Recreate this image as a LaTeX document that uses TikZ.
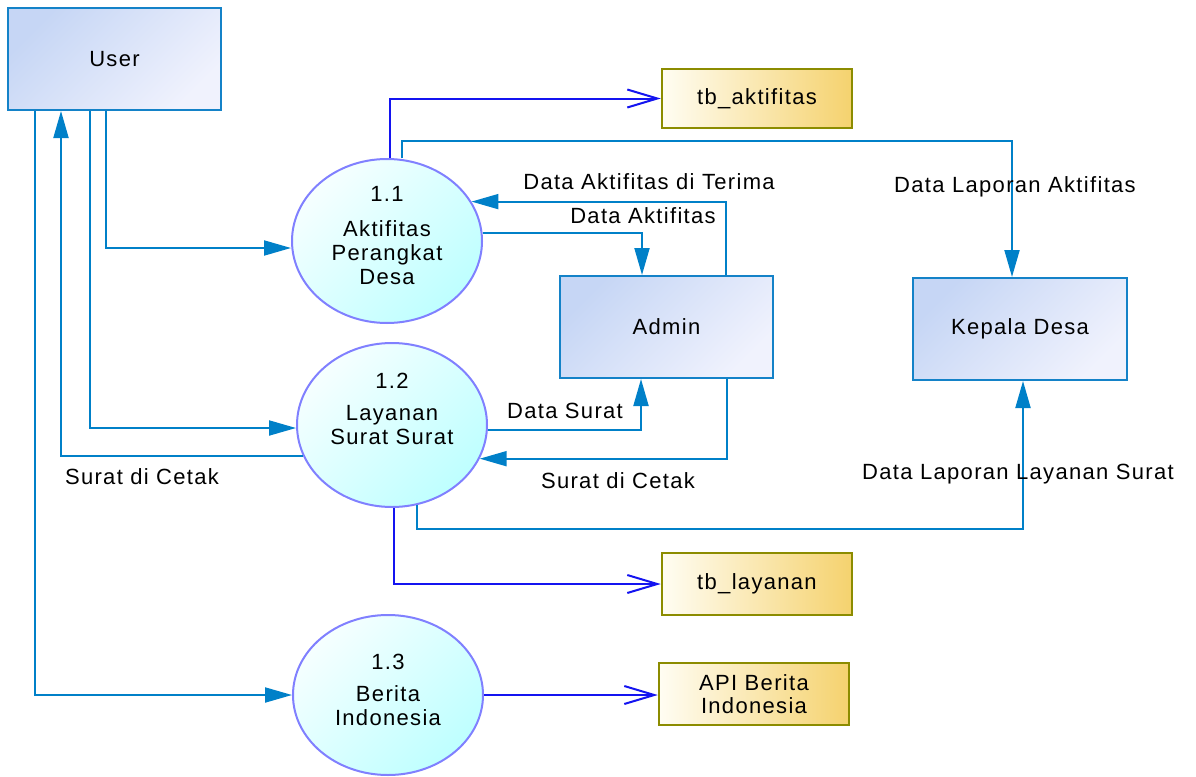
\documentclass[tikz,border=0pt]{standalone}
\usepackage{fontspec}
\setmainfont{Liberation Sans}[LetterSpace=6]
\usetikzlibrary{arrows.meta,shapes.geometric,calc}
\definecolor{entborder}{RGB}{20,130,200}
\definecolor{entA}{RGB}{198,214,245}
\definecolor{entB}{RGB}{240,242,253}
\definecolor{procborder}{RGB}{128,128,255}
\definecolor{procA}{RGB}{246,255,255}
\definecolor{procB}{RGB}{190,255,255}
\definecolor{storeborder}{RGB}{140,140,0}
\definecolor{storeA}{RGB}{255,253,243}
\definecolor{storeB}{RGB}{245,210,110}
\definecolor{tealline}{RGB}{0,128,200}
\definecolor{blueline}{RGB}{20,20,240}
\begin{document}
\begin{tikzpicture}[x=1pt,y=-1pt,
  font=\fontsize{22}{24}\selectfont,
  entity/.style={rectangle, draw=entborder, line width=2pt, shading=axis, top color=entA, bottom color=entB, shading angle=45, inner sep=0pt},
  proc/.style={ellipse, draw=procborder, line width=2pt, shading=axis, top color=procA, bottom color=procB, shading angle=45, inner sep=0pt, minimum width=190pt},
  ptext/.style={align=center, inner sep=0pt},
  store/.style={rectangle, draw=storeborder, line width=2.5pt, left color=storeA, right color=storeB, minimum width=190pt, inner sep=0pt, align=center, font=\fontsize{22}{23}\selectfont},
  flow/.style={draw=tealline, line width=2pt, -{Triangle[length=27pt,width=15pt]}},
  flowb/.style={draw=blueline, line width=2pt, -{Straight Barb[length=30pt,width=18pt,line width=2pt]}},
  lbl/.style={inner sep=0pt}
]
\useasboundingbox (0,0) rectangle (1196,776);

% external entities
\node[entity, minimum width=213pt, minimum height=102pt] (user) at (114.5,59) {User};
\node[entity, minimum width=213pt, minimum height=102pt] (admin) at (666.5,327) {Admin};
\node[entity, minimum width=214pt, minimum height=102pt] (kepala) at (1020,329) {Kepala Desa};

% processes
\node[proc, minimum height=164pt] (a11) at (387,241) {};
\node[proc, minimum height=164pt] (a12) at (392,425) {};
\node[proc, minimum height=160pt] (a13) at (388,695) {};
\node[ptext] (t11) at (387,236) {1.1\\[11pt]Aktifitas\\Perangkat\\Desa};
\node[ptext] (t12) at (392,409) {1.2\\[8pt]Layanan\\Surat Surat};
\node[ptext] (t13) at (388,690) {1.3\\[8pt]Berita\\Indonesia};

% data stores
\node[store, minimum height=59pt] (tbak) at (757,98.5) {tb\_aktifitas};
\node[store, minimum height=62pt] (tbly) at (757,584) {tb\_layanan};
\node[store, minimum height=62pt] (api) at (754,694) {API Berita\\Indonesia};

% flows User <-> processes
\draw[flow] ([xshift=-8.5pt]user.south) |- (a11.west |- 0,248);
\draw[flow] (a12.199.4) -| ([xshift=-53.5pt]user.south);
\draw[flow] ([xshift=-24.5pt]user.south) |- (a12.west |- 0,428);
\draw[flow] ([xshift=-79.5pt]user.south) |- (a13.west);

% 1.1 flows
\draw[flowb] ([xshift=3pt]a11.north) |- (tbak.west);
\draw[flow] ([xshift=15pt]a11.north) -- ++(0,-17) -| ([xshift=-8pt]kepala.north);
\draw[flow] ([xshift=59.5pt]admin.north) |- (a11.25.7);
\draw[flow] (a11.5.4) -| ([xshift=-24.5pt]admin.north);

% 1.2 flows
\draw[flow] (a12.-3.6) -| ([xshift=-25.5pt]admin.south);
\draw[flow] ([xshift=60.5pt]admin.south) |- (a12.-21.5);
\draw[flow] (a12.-73.2) -- ++(0,24) -| ([xshift=3pt]kepala.south);
\draw[flowb] ([xshift=2pt]a12.south) |- (tbly.west);

% 1.3 flow
\draw[flowb] (a13.east) -- (a13.east -| api.west);

% labels
\node[lbl] (l1) at (649,182) {Data Aktifitas di Terima};
\node[lbl] (l2) at (643,216) {Data Aktifitas};
\node[lbl] (l3) at (1015,187) {Data Laporan Aktifitas};
\node[lbl] (l4) at (565,411) {Data Surat};
\node[lbl] (l5) at (618,481) {Surat di Cetak};
\node[lbl] (l6) at (142,477) {Surat di Cetak};
\node[lbl] (l7) at (1018,474) {Data Laporan Layanan Surat};
\end{tikzpicture}
\end{document}
